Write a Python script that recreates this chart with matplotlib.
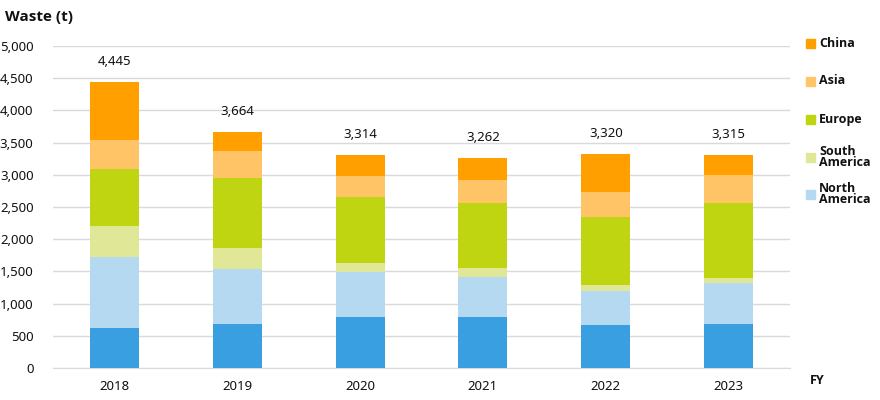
import numpy as np
import matplotlib
matplotlib.use('Agg')
import matplotlib.pyplot as plt
from matplotlib.patches import Rectangle

years = ['2018', '2019', '2020', '2021', '2022', '2023']
totals = [4445, 3664, 3314, 3262, 3320, 3315]

# segments from bottom to top
japan = [625, 687, 796, 796, 672, 687]
north_america = [1100, 853, 698, 620, 527, 636]
south_america = [480, 326, 139, 140, 93, 78]
europe = [885, 1086, 1024, 1008, 1055, 1163]
asia = [450, 418, 326, 357, 388, 434]
china = [905, 294, 331, 341, 585, 317]

series = [japan, north_america, south_america, europe, asia, china]
colors = ['#3A9FE0', '#B4D9F0', '#E0E897', '#C0D512', '#FFC466', '#FF9F00']
legend_names = ['China', 'Asia', 'Europe', 'South\nAmerica', 'North\nAmerica']
legend_colors = ['#FF9F00', '#FFC466', '#C0D512', '#E0E897', '#B4D9F0']

plt.rcParams['font.family'] = ['Noto Sans', 'DejaVu Sans']
bold_family = ['Open Sans', 'DejaVu Sans']

fig = plt.figure(figsize=(8.8, 4.0), dpi=100)
ax = fig.add_axes([53 / 880, 32 / 400, 737 / 880, 322 / 400])

x = np.arange(len(years))
bottom = np.zeros(len(years))
for vals, c in zip(series, colors):
    ax.bar(x, vals, width=0.4, bottom=bottom, color=c, zorder=3)
    bottom += np.array(vals)

for xi, t in zip(x, totals):
    ax.annotate(f'{t:,}', (xi, t), xytext=(0, 10), textcoords='offset points',
                ha='center', va='bottom', fontsize=9.5, color='#111111')

ax.set_xlim(-0.5, 5.5)
ax.set_ylim(0, 5000)
ax.set_yticks(range(0, 5001, 500))
ax.set_yticklabels([f'{v:,}' for v in range(0, 5001, 500)])
ax.set_xticks(x)
ax.set_xticklabels(years)
ax.tick_params(length=0, labelsize=9.5, colors='#111111')
ax.tick_params(axis='x', pad=9)
ax.tick_params(axis='y', pad=14)
ax.grid(axis='y', color='#D9D9D9', linewidth=1, zorder=0)
for s in ['top', 'right', 'left']:
    ax.spines[s].set_visible(False)
ax.spines['bottom'].set_color('#D9D9D9')
ax.spines['bottom'].set_zorder(1)

fig.text(5 / 880, 1 - 17 / 400, 'Waste (t)', fontsize=11, fontweight='bold',
         family=bold_family, ha='left', va='center', color='#111111')
fig.text(810 / 880, 1 - 381 / 400, 'FY', fontsize=9, fontweight='bold',
         family=bold_family, ha='left', va='center', color='#111111')

# legend
leg_y = [43.5, 81, 119, 157, 194]
for name, c, yy in zip(legend_names, legend_colors, leg_y):
    fig.patches.append(Rectangle((806 / 880, 1 - (yy + 4.5) / 400), 9 / 880, 9 / 400,
                                 transform=fig.transFigure, color=c, figure=fig))
    fig.text(819 / 880, 1 - yy / 400, name, fontsize=9, fontweight='bold',
             family=bold_family, ha='left', va='center', color='#111111',
             linespacing=0.85)

fig.savefig('out.png', dpi=100)
